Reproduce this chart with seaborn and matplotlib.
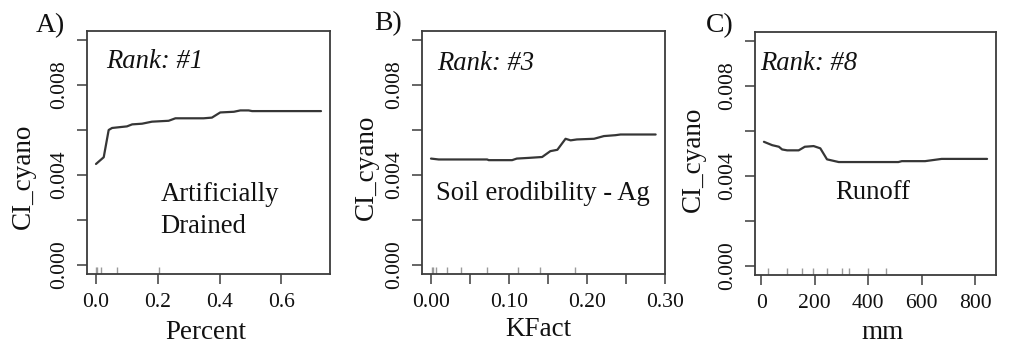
import matplotlib
matplotlib.use("Agg")
import matplotlib.pyplot as plt
import seaborn as sns
import numpy as np
import pandas as pd

# ---------------- data ----------------
a_x = [0.0, 0.025, 0.041, 0.052, 0.079, 0.100, 0.117, 0.149, 0.181, 0.235, 0.257,
       0.348, 0.375, 0.402, 0.446, 0.467, 0.494, 0.505, 0.728]
a_y = [0.00449, 0.00479, 0.00600, 0.00609, 0.00613, 0.00616, 0.00625, 0.00628,
       0.00637, 0.00641, 0.00652, 0.00652, 0.00655, 0.00678, 0.00681, 0.00687,
       0.00687, 0.00684, 0.00684]
a_rug = [0.0, 0.002, 0.015, 0.067, 0.205]

b_x = [0.0, 0.0099, 0.072, 0.074, 0.104, 0.110, 0.125, 0.1425, 0.153, 0.162,
       0.1725, 0.179, 0.187, 0.209, 0.2217, 0.2366, 0.243, 0.288]
b_y = [0.00473, 0.00469, 0.00469, 0.00466, 0.00466, 0.00473, 0.00476, 0.00480,
       0.00506, 0.00512, 0.00561, 0.00554, 0.00558, 0.00561, 0.00573, 0.00577,
       0.00580, 0.00580]
b_rug = [0.0013, 0.003, 0.0064, 0.021, 0.038, 0.0715, 0.111, 0.140, 0.184]

c_x = [10, 41, 66, 78, 97, 140, 163, 196, 221, 246, 290, 513, 526, 613, 675, 845]
c_y = [0.00552, 0.00537, 0.00530, 0.00518, 0.00514, 0.00514, 0.00530, 0.00533,
       0.00523, 0.00474, 0.00462, 0.00462, 0.00466, 0.00466, 0.00476, 0.00476]
c_rug = [27, 94.5, 151.5, 192.5, 245, 301, 328, 398, 466]

panel_labels = ["A)", "B)", "C)"]
rank_labels = ["Rank: #1", "Rank: #3", "Rank: #8"]
var_labels = ["Artificially\nDrained", "Soil erodibility - Ag", "Runoff"]
x_labels = ["Percent", "KFact", "mm"]
y_label = "CI_cyano"

y_ticks = [0.000, 0.002, 0.004, 0.006, 0.008, 0.010]
y_ticklabels = ["0.000", "", "0.004", "", "0.008", ""]
a_ticks = [0.0, 0.2, 0.4, 0.6]
a_ticklabels = ["0.0", "0.2", "0.4", "0.6"]
b_ticks = [0.00, 0.05, 0.10, 0.15, 0.20, 0.25, 0.30]
b_ticklabels = ["0.00", "", "0.10", "", "0.20", "", "0.30"]
c_ticks = [0, 200, 400, 600, 800]
c_ticklabels = ["0", "200", "400", "600", "800"]

# ---------------- style ----------------
sns.set_theme(style="white")
plt.rcParams["font.family"] = ["Liberation Serif", "DejaVu Serif"]

W, H = 1009, 343
fig = plt.figure(figsize=(W / 100, H / 100), dpi=100)

def px_axes(l, t, r, b):
    return fig.add_axes([l / W, 1 - b / H, (r - l) / W, (b - t) / H])

axes = [px_axes(87, 31, 330, 274), px_axes(422, 31, 665, 274), px_axes(755, 32, 996, 275)]

datasets = [(a_x, a_y, a_rug, a_ticks, a_ticklabels),
            (b_x, b_y, b_rug, b_ticks, b_ticklabels),
            (c_x, c_y, c_rug, c_ticks, c_ticklabels)]

rank_pos = [(0.078, 0.874), (0.062, 0.867), (0.020, 0.872)]
var_pos = [(0.303, 0.262), (0.058, 0.332), (0.332, 0.340)]
ylab_pos = [(-0.263, 0.40), (-0.230, 0.438), (-0.254, 0.478)]
xlab_pos = [(0.49, -0.24), (0.48, -0.23), (0.53, -0.235)]
panel_pos = [(50, 26), (388, 24), (720, 26)]

edge = "#3c3c3c"
for i, ax in enumerate(axes):
    xs, ys, rug, xt, xtl = datasets[i]
    df = pd.DataFrame({"x": xs, "y": ys})
    sns.lineplot(data=df, x="x", y="y", ax=ax, color="#363636", lw=1.6,
                 estimator=None, sort=False)
    sns.rugplot(x=rug, ax=ax, height=0.03, color="#9a9a9a", lw=1.1)

    lo, hi = min(xs), max(xs)
    ext = 0.04 * (hi - lo)
    ax.set_xlim(lo - ext, hi + ext)
    ax.set_ylim(-0.0004, 0.0104)

    ax.set_yticks(y_ticks)
    ax.set_yticklabels(y_ticklabels, rotation=90, va="center", ha="center")
    ax.set_xticks(xt)
    ax.set_xticklabels(xtl)
    ax.tick_params(axis="both", direction="out", length=7.5, width=1.1,
                   color=edge, labelsize=15.6, labelcolor="#111111",
                   bottom=True, left=True, top=False, right=False)
    ax.tick_params(axis="y", pad=12)
    ax.tick_params(axis="x", pad=6)

    for s in ax.spines.values():
        s.set_visible(True)
        s.set_color(edge)
        s.set_linewidth(1.3)

    ax.set_ylabel(y_label, fontsize=19.5, color="#111111", va="center", ha="center")
    ax.yaxis.set_label_coords(*ylab_pos[i])
    ax.set_xlabel(x_labels[i], fontsize=19.5, color="#111111", va="center", ha="center")
    ax.xaxis.set_label_coords(*xlab_pos[i])

    ax.text(rank_pos[i][0], rank_pos[i][1], rank_labels[i], transform=ax.transAxes,
            fontsize=19.2, style="italic", ha="left", va="center", color="#111111")
    ax.text(var_pos[i][0], var_pos[i][1], var_labels[i], transform=ax.transAxes,
            fontsize=19.2, ha="left", va="center", color="#111111", linespacing=1.4)

    fig.text(panel_pos[i][0] / W, 1 - panel_pos[i][1] / H, panel_labels[i],
             fontsize=20, ha="center", va="center", color="#111111")

fig.savefig("out.png", dpi=100)
